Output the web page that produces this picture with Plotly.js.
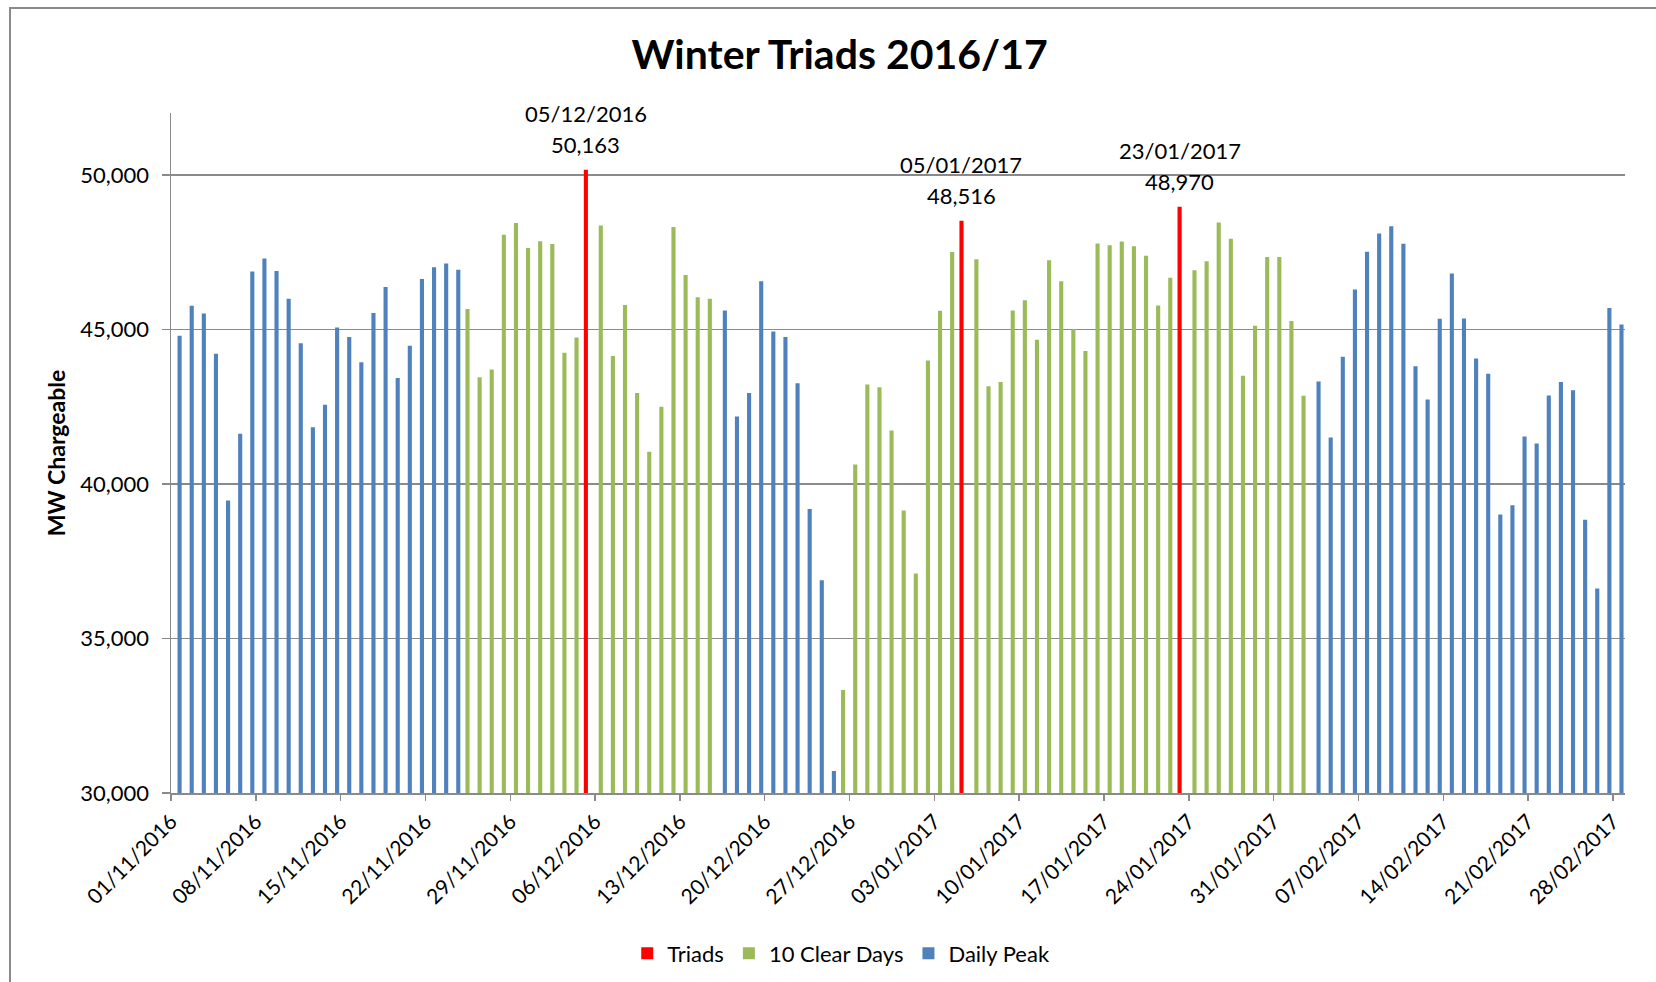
<!DOCTYPE html>
<html>
<head>
<meta charset="utf-8">
<script src="https://cdn.plot.ly/plotly-3.0.1.min.js"></script>
<style>
  html, body { margin: 0; padding: 0; background: #ffffff; }
  #wrap { position: relative; width: 1656px; height: 982px; overflow: hidden; }
  #chart { position: absolute; left: 0; top: 0; width: 1656px; height: 982px; }
  #frame { position: absolute; left: 9px; top: 7px; width: 1700px; height: 1000px;
           border-top: 2px solid #8a8a8a; border-left: 2px solid #8a8a8a; pointer-events: none; }
</style>
</head>
<body>
<div id="wrap"><div id="chart"></div><div id="frame"></div></div>
<script>
// ---- Data ----
const startDate = '2016-11-01';   // first category (120 consecutive days to 28/02/2017)
const dayCount = 120;

// Daily Peak (blue) – null where the day belongs to another series
const dailyPeak = [
  44790, 45760, 45510, 44210, 39460, 41620, 46870, 47290, 46890, 45990,
  44550, 41830, 42560, 45060, 44750, 43940, 45530, 46370, 43430, 44470,
  46630, 47010, 47130, 46930, null, null, null, null, null, null,
  null, null, null, null, null, null, null, null, null, null,
  null, null, null, null, null, 45610, 42180, 42940, 46560, 44930,
  44750, 43260, 39190, 36880, 30710, null, null, null, null, null,
  null, null, null, null, null, null, null, null, null, null,
  null, null, null, null, null, null, null, null, null, null,
  null, null, null, null, null, null, null, null, null, null,
  null, null, null, null, 43310, 41500, 44110, 46290, 47510, 48100,
  48340, 47770, 43810, 42730, 45340, 46810, 45350, 44060, 43560, 39010,
  39310, 41530, 41310, 42860, 43300, 43030, 38840, 36620, 45690, 45160
];

// 10 Clear Days (green)
const clearDays = [
  null, null, null, null, null, null, null, null, null, null,
  null, null, null, null, null, null, null, null, null, null,
  null, null, null, null, 45660, 43450, 43700, 48060, 48440, 47630,
  47850, 47760, 44240, 44740, null, 48360, 44140, 45790, 42940, 41040,
  42500, 48310, 46760, 46040, 45990, null, null, null, null, null,
  null, null, null, null, null, 33330, 40630, 43220, 43130, 41730,
  39140, 37100, 43990, 45600, 47500, null, 47270, 43160, 43300, 45610,
  45940, 44660, 47240, 46560, 45000, 44300, 47780, 47720, 47840, 47690,
  47380, 45770, 46670, null, 46910, 47200, 48460, 47930, 43500, 45120,
  47340, 47340, 45270, 42850, null, null, null, null, null, null,
  null, null, null, null, null, null, null, null, null, null,
  null, null, null, null, null, null, null, null, null, null
];

// Triads (red)
const triadDates  = ['2016-12-05', '2017-01-05', '2017-01-23'];
const triadValues = [50163, 48516, 48970];
const triadLabels = ['05/12/2016', '05/01/2017', '23/01/2017'];
const triadValueText = ['50,163', '48,516', '48,970'];

// x-axis tick labels (weekly)
const tickLabels = [
  '01/11/2016', '08/11/2016', '15/11/2016', '22/11/2016', '29/11/2016', '06/12/2016',
  '13/12/2016', '20/12/2016', '27/12/2016', '03/01/2017', '10/01/2017', '17/01/2017',
  '24/01/2017', '31/01/2017', '07/02/2017', '14/02/2017', '21/02/2017', '28/02/2017'
];

// ---- helpers ----
const DAY = 86400000;
function pad(n) { return (n < 10 ? '0' : '') + n; }
function msToStr(ms) {
  const d = new Date(ms);
  return d.getUTCFullYear() + '-' + pad(d.getUTCMonth() + 1) + '-' + pad(d.getUTCDate()) +
    ' ' + pad(d.getUTCHours()) + ':' + pad(d.getUTCMinutes()) + ':' + pad(d.getUTCSeconds());
}
function isoToMs(s) { const p = s.split('-').map(Number); return Date.UTC(p[0], p[1] - 1, p[2]); }
function labelToIso(s) { const p = s.split('/'); return p[2] + '-' + p[1] + '-' + p[0]; }

const startMs = isoToMs(startDate);
const dates = [];
for (let i = 0; i < dayCount; i++) dates.push(msToStr(startMs + i * DAY).slice(0, 10));

const BAR_W = 0.34 * DAY;
const centre = { red: 0.24 * DAY, green: 0.47 * DAY, blue: 0.71 * DAY };

const traces = [
  {
    type: 'bar', name: 'Triads', x: triadDates, y: triadValues,
    width: BAR_W, offset: centre.red - BAR_W / 2,
    marker: { color: '#ff0000' }
  },
  {
    type: 'bar', name: '10 Clear Days', x: dates, y: clearDays,
    width: BAR_W, offset: centre.green - BAR_W / 2,
    marker: { color: '#9bbb59' }
  },
  {
    type: 'bar', name: 'Daily Peak', x: dates, y: dailyPeak,
    width: BAR_W, offset: centre.blue - BAR_W / 2,
    marker: { color: '#4f81bd' }
  }
];

const annotations = [];
triadDates.forEach((d, i) => {
  const xPos = msToStr(isoToMs(d) + centre.red);
  annotations.push({
    x: xPos, y: triadValues[i], xref: 'x', yref: 'y', showarrow: false,
    yanchor: 'middle', yshift: 56, text: triadLabels[i],
    font: { size: 22, color: '#000000' }
  });
  annotations.push({
    x: xPos, y: triadValues[i], xref: 'x', yref: 'y', showarrow: false,
    yanchor: 'middle', yshift: 25.5, text: triadValueText[i],
    font: { size: 22, color: '#000000' }
  });
});

const layout = {
  width: 1656, height: 982,
  margin: { l: 171, r: 31, t: 113, b: 189 },
  paper_bgcolor: 'rgba(0,0,0,0)', plot_bgcolor: '#ffffff',
  font: { family: 'Lato, Carlito, Calibri, sans-serif', size: 22, color: '#000000' },
  title: {
    text: '<b>Winter Triads 2016/17</b>',
    font: { size: 41, color: '#000000' },
    x: 0.507, xanchor: 'center', y: 0.944, yanchor: 'middle'
  },
  barmode: 'overlay',
  showlegend: true,
  legend: {
    orientation: 'h', xref: 'container', yref: 'container',
    x: 0.508, xanchor: 'center', y: 0.029, yanchor: 'middle',
    font: { size: 22 }, traceorder: 'normal', itemwidth: 30
  },
  xaxis: {
    type: 'date',
    range: [startDate, msToStr(startMs + dayCount * DAY).slice(0, 10)],
    tickvals: tickLabels.map(labelToIso),
    ticktext: tickLabels,
    tickangle: -45,
    ticks: 'outside', ticklen: 6, tickcolor: '#8a8a8a', tickwidth: 1.5,
    showline: true, linecolor: '#8a8a8a', linewidth: 2,
    showgrid: false, zeroline: false, automargin: false,
    tickfont: { size: 21 }
  },
  yaxis: {
    range: [30000, 52000],
    tickvals: [30000, 35000, 40000, 45000, 50000],
    tickformat: ',d',
    ticks: 'outside', ticklen: 8, tickcolor: '#8a8a8a', tickwidth: 1.5,
    showline: true, linecolor: '#8a8a8a', linewidth: 1.5,
    showgrid: true, gridcolor: '#8a8a8a', gridwidth: 1.5,
    zeroline: false, automargin: false,
    ticklabelstandoff: 8,
    tickfont: { size: 22 },
    title: { text: '<b>MW Chargeable</b>', font: { size: 23 }, standoff: 8 }
  },
  annotations: annotations
};

Plotly.newPlot('chart', traces, layout, { displayModeBar: false, staticPlot: true });
</script>
</body>
</html>
